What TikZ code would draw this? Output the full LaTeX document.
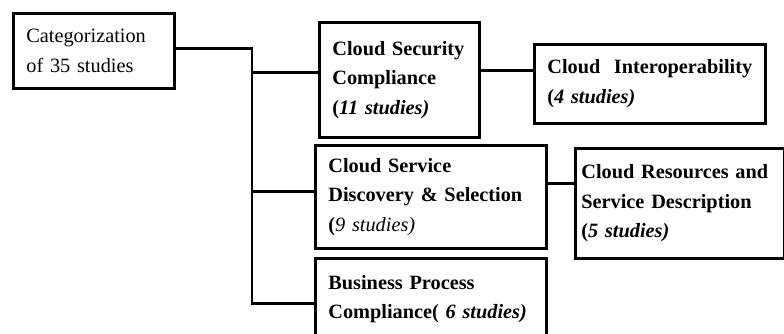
\documentclass[tikz,border=0pt]{standalone}
\usepackage{fontspec}
\setmainfont{Liberation Serif}
\usetikzlibrary{positioning,calc}

\begin{document}
\begin{tikzpicture}[x=1pt, y=-1pt, line width=2.7pt,
    box/.style={draw, anchor=north west, align=left, inner xsep=13pt, inner ysep=0pt,
                font=\fontsize{20.3}{29.5}\selectfont},
    link/.style={line cap=rect}]
    \useasboundingbox (0,0) rectangle (784,333);
    \node (root) [box, text width=135pt, minimum height=75pt] at (12,12) {Categorization\\of 35 studies};
    \node (csc)  [box, text width=134pt, minimum height=115pt] at (318,21)
                 {\textbf{Cloud Security\\Compliance\\(\textit{11 studies)}}};
    \node (ci)   [box, text width=205pt, minimum height=79pt] at (533,43)
                 {\textbf{Cloud\ \ Interoperability\\(\textit{4 studies)}}};
    \node (csd)  [box, text width=205pt, minimum height=103pt] at (314,144)
                 {\textbf{Cloud Service\\Discovery \& Selection\\(}\textit{9 studies)}};
    \node (bpc)  [box, text width=205pt, minimum height=82pt] at (314,257)
                 {\textbf{Business Process\\Compliance( \textit{6 studies)}}};
    \node (crs)  [box, text width=197pt, minimum height=110pt, inner xsep=6pt] at (574,147)
                 {\textbf{Cloud Resources and\\Service Description\\(\textit{5 studies)}}};
    % where the lines meet the boxes
    \coordinate (spine)  at (252,0);
    \coordinate (root out) at ([yshift=2.5pt]root.east);
    \coordinate (csc in)  at ([yshift=7.5pt]csc.west);
    \coordinate (csd in)  at ([yshift=5.5pt]csd.west);
    \coordinate (bpc in)  at ([yshift=-4pt]bpc.west);
    \coordinate (csc out) at ([yshift=9.5pt]csc.east);
    \coordinate (csd out) at ([yshift=13.5pt]csd.east);
    % tree spine
    \draw[link] (root out) -| (spine |- bpc in) -- (bpc in);
    \draw[link] (spine |- csc in) -- (csc in);
    \draw[link] (spine |- csd in) -- (csd in);
    % second level
    \draw[link] (csc out) -- (csc out -| ci.west);
    \draw[link] (csd out) -- (csd out -| crs.west);
\end{tikzpicture}
\end{document}
